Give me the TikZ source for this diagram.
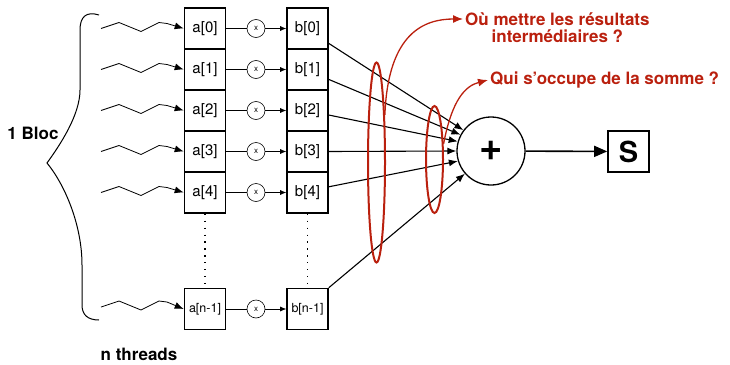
\documentclass[tikz,border=0pt]{standalone}
\usepackage{fontspec}
\setmainfont{TeX Gyre Heros}
\usetikzlibrary{arrows.meta,positioning,shapes.geometric}

\definecolor{rouge}{RGB}{186,32,14}

\tikzset{
  case/.style={draw, line width=1.6pt, minimum width=41pt, minimum height=41pt,
    inner sep=0pt, font=\fontsize{15}{15}\selectfont},
  fois/.style={draw, circle, minimum size=18pt, inner sep=0pt, line width=0.6pt,
    font=\fontsize{8}{8}\selectfont},
  fil/.style={-{Latex[length=9pt,width=7pt]}, line width=0.8pt},
  prod/.style={-{Latex[length=6pt,width=5pt]}, line width=0.6pt},
  vers/.style={-{Latex[length=9pt,width=7pt]}, line width=1.1pt},
  points/.style={line width=1.3pt, dash pattern=on 1.3pt off 5.6pt},
  boucle/.style={draw=rouge, ellipse, line width=2pt, minimum width=17pt, inner sep=0pt},
  question/.style={rouge, inner sep=2pt, font=\fontsize{17}{17}\selectfont\bfseries},
  etiquette/.style={font=\fontsize{17}{17}\selectfont\bfseries}
}

\begin{document}
\begin{tikzpicture}[x=1pt,y=-1pt]
\useasboundingbox (0,0) rectangle (730,364);

% les cases a[i]
\node[case] (a0) at (205,28.5) {a[0]};
\node[case] (a1) at (205,69.5) {a[1]};
\node[case] (a2) at (205,110.5) {a[2]};
\node[case] (a3) at (205,151.5) {a[3]};
\node[case] (a4) at (205,192.5) {a[4]};
\node[case, font=\fontsize{12.5}{12.5}\selectfont] (an) at (205,309) {a[n-1]};

% les cases b[i]
\node[case] (b0) at (307.5,28.5) {b[0]};
\node[case] (b1) at (307.5,69.5) {b[1]};
\node[case] (b2) at (307.5,110.5) {b[2]};
\node[case] (b3) at (307.5,151.5) {b[3]};
\node[case] (b4) at (307.5,192.5) {b[4]};
\node[case, font=\fontsize{12.5}{12.5}\selectfont] (bn) at (307.5,309) {b[n-1]};

\draw[points] (a4) -- (an);
\draw[points] (b4) -- (bn);

% multiplications
\node[fois] (x0) at (256,28.5) {x};
\node[fois] (x1) at (256,69.5) {x};
\node[fois] (x2) at (256,110.5) {x};
\node[fois] (x3) at (256,151.5) {x};
\node[fois] (x4) at (256,192.5) {x};
\node[fois] (xn) at (256,309) {x};

\draw[line width=0.6pt] (a0) -- (x0);
\draw[line width=0.6pt] (a1) -- (x1);
\draw[line width=0.6pt] (a2) -- (x2);
\draw[line width=0.6pt] (a3) -- (x3);
\draw[line width=0.6pt] (a4) -- (x4);
\draw[line width=0.6pt] (an) -- (xn);
\draw[prod] (x0) -- (b0);
\draw[prod] (x1) -- (b1);
\draw[prod] (x2) -- (b2);
\draw[prod] (x3) -- (b3);
\draw[prod] (x4) -- (b4);
\draw[prod] (xn) -- (bn);

% les threads
\coordinate (w0) at (101,28.5);
\coordinate (w1) at (101,69.5);
\coordinate (w2) at (101,110.5);
\coordinate (w3) at (101,151.5);
\coordinate (w4) at (101,192.5);
\coordinate (wn) at (101,307);
\draw[fil] (w0) -- ++(18,-6) -- ++(22,9) -- ++(18,-9) -- ++(8,1) -- (a0.west);
\draw[fil] (w1) -- ++(18,-6) -- ++(22,9) -- ++(18,-9) -- ++(8,1) -- (a1.west);
\draw[fil] (w2) -- ++(18,-6) -- ++(22,9) -- ++(18,-9) -- ++(8,1) -- (a2.west);
\draw[fil] (w3) -- ++(18,-6) -- ++(22,9) -- ++(18,-9) -- ++(8,1) -- (a3.west);
\draw[fil] (w4) -- ++(18,-6) -- ++(22,9) -- ++(18,-9) -- ++(8,1) -- (a4.west);
\draw[fil] (wn) -- ++(18,-6) -- ++(22,9) -- ++(18,-9) -- ++(8,1) -- (an.west);

% accolade du bloc
\draw[line width=1pt] (99,15) .. controls (86,11) and (80,17) .. (80,30) -- (80,90)
  .. controls (80,115) and (60,145) .. (47,163)
  .. controls (65,185) and (82,225) .. (82,265) -- (82,305)
  .. controls (82,315) and (88,320) .. (99,320);
\node[etiquette] (bloc) at (33,133) {1 Bloc};
\node[etiquette] (threads) at (139,354) {n threads};

% la somme
\node[draw, circle, minimum size=68pt, inner sep=0pt, line width=1.3pt] (plus) at (491,151)
  {\fontsize{40}{40}\selectfont\bfseries +};
\node[draw, line width=1.6pt, minimum size=41pt, inner sep=0pt] (s) at (628.5,151.5)
  {\fontsize{29}{29}\selectfont\bfseries S};

\draw[vers] (b0.-35) -- (plus.143);
\draw[vers] (b1.-25) -- (plus.152);
\draw[vers] (b2.-12) -- (plus.164);
\draw[vers] (b3.east) -- (plus.180);
\draw[vers] (b4.15) -- (plus.197);
\draw[vers] (bn.north east) -- (plus.221);
\draw[-{Triangle[length=13pt,width=11pt]}, line width=1.6pt] (plus) -- (s);

% les questions
\node[boucle, minimum height=200pt] (l1) at (376.5,162.5) {};
\node[boucle, minimum height=107pt] (l2) at (434.5,159.5) {};

\node[question, anchor=west] (q1) at (463,19) {Où mettre les résultats};
\node[question, below=0pt of q1] (q1b) {intermédiaires ?};
\node[question, anchor=west] (q2) at (488,80) {Qui s’occupe de la somme ?};

\draw[rouge, line width=1.3pt, -{Latex[length=10pt,width=8pt]}] (l1.80)
  .. controls (388,32) and (425,19) .. (q1.west);
\draw[rouge, line width=1.3pt, -{Latex[length=10pt,width=8pt]}] (l2.60)
  .. controls (452,100) and (465,86) .. (q2.west);

\end{tikzpicture}
\end{document}
